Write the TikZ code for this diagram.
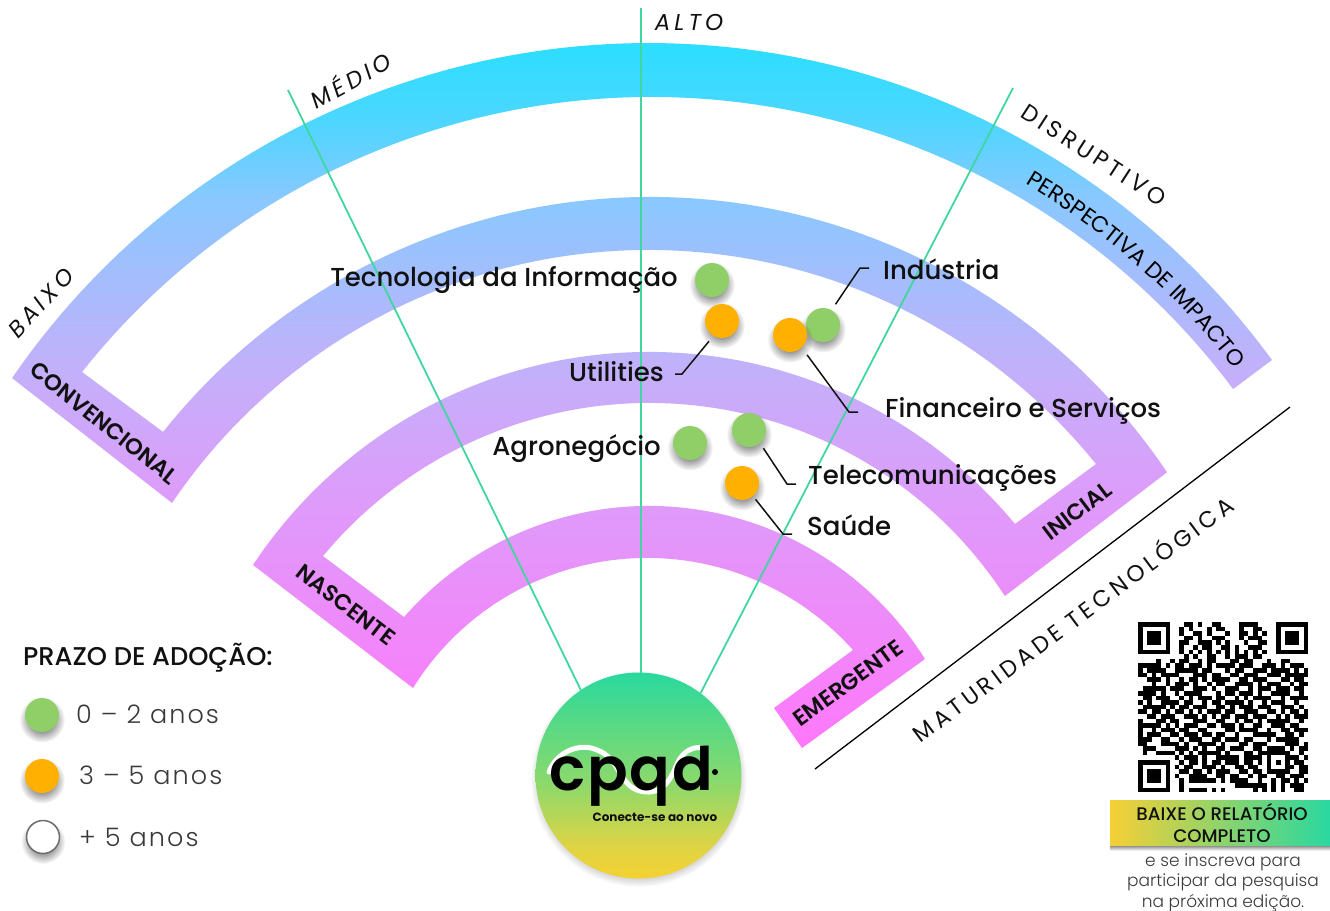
\documentclass[tikz,border=0pt]{standalone}
\usepackage{fontspec}
\usetikzlibrary{shadows,fadings,decorations.text,calc}
\setmainfont{Poppins}
\newfontfamily\medfont{Poppins Medium}
\newfontfamily\semifont{Poppins SemiBold}
\newfontfamily\logofont[LetterSpace=3]{Poppins SemiBold}
\newfontfamily\lightfont{Poppins Light}
\newfontfamily\spacedfont[LetterSpace=18]{Poppins}
\newfontfamily\legendfont[LetterSpace=8]{Poppins Light}
\newcommand{\fs}[1]{\fontsize{#1}{#1}\selectfont}
\definecolor{raygreen}{HTML}{3FD6A0}
\definecolor{dotg}{HTML}{90CF68}
\definecolor{doto}{HTML}{FFB000}
\definecolor{ink}{HTML}{111111}
\definecolor{soft}{HTML}{3A3A3A}
\definecolor{ctay}{HTML}{F6CF35}
\definecolor{ctag}{HTML}{25D8A2}
\pgfdeclareverticalshading{bandgrad}{100bp}{rgb(0bp)=(1,.47,.98);rgb(25bp)=(1,.47,.98);rgb(42.6bp)=(.87,.61,.98);rgb(51.8bp)=(.765,.69,.98);rgb(63.9bp)=(.54,.785,1);rgb(69.5bp)=(.3,.84,1);rgb(75bp)=(.17,.87,1);rgb(100bp)=(.17,.87,1)}
\pgfdeclareverticalshading{logograd}{100bp}{rgb(0bp)=(.96,.82,.19);rgb(25bp)=(.96,.82,.19);rgb(33bp)=(.87,.83,.27);rgb(48bp)=(.55,.85,.42);rgb(62bp)=(.35,.85,.52);rgb(75bp)=(.16,.85,.62);rgb(100bp)=(.16,.85,.62)}
\tikzfading[name=softfade,inner color=transparent!0,outer color=transparent!100]
\tikzset{
  ray/.style={raygreen,line width=1.8pt},
  leader/.style={ink,line width=1.5pt},
  softshadow/.style={general shadow={shadow xshift=0pt,shadow yshift=-3.5pt,shadow scale=1.35,fill=black,opacity=.85,path fading=softfade}},
  bubble/.style={circle,minimum size=34pt,inner sep=0pt,softshadow},
  dotgreen/.style={bubble,fill=dotg},
  dotorange/.style={bubble,fill=doto},
  dotwhite/.style={bubble,fill=white,draw=gray!85!black,line width=1.5pt,minimum size=33pt},
  sector/.style={font=\medfont\fs{26},text=ink,inner sep=0pt},
  axis/.style={font=\spacedfont\fs{23},text=ink,inner sep=0pt},
  axisit/.style={axis,font=\spacedfont\itshape\fs{23}},
  stage/.style={font=\semifont\fs{22.6},text=ink,inner sep=0pt},
  legendtxt/.style={font=\legendfont\fs{25.5},text=soft,inner sep=0pt,anchor=west},
  qrmod/.style={fill=black},
}
\newcount\qx
\newcount\qy
\def\qrscan#1{\ifx#1\relax\let\qrnext\relax\else\if#11\fill[qrmod] ({1138+\the\qx*4.6},{622+\the\qy*4.6}) rectangle ++(4.65,4.65);\fi\global\advance\qx by 1 \let\qrnext\qrscan\fi\qrnext}
\begin{document}
\begin{tikzpicture}[x=1pt,y=-1pt]
\useasboundingbox (0,0) rectangle (1330,910);
% serpentine band
\path[shading=bandgrad]
  plot[variable=\t,domain=145.53:36.11,samples=90] ({648.4+771.9*cos(\t)},{814.9-771.9*sin(\t)})
  -- plot[variable=\t,domain=36.7:141.6,samples=90] ({651.0+726.0*cos(\t)},{822.9-726.0*sin(\t)})
  -- plot[variable=\t,domain=141.5:33.9,samples=90] ({650.3+622.6*cos(\t)},{819.5-622.6*sin(\t)})
  -- plot[variable=\t,domain=33.0:140.29,samples=90] ({649.2+424.1*cos(\t)},{827.0-424.1*sin(\t)})
  -- plot[variable=\t,domain=138.81:31.97,samples=90] ({648.9+325.4*cos(\t)},{831.3-325.4*sin(\t)})
  -- (802,748) -- (774,708)
  -- plot[variable=\t,domain=41.77:148.1,samples=90] ({647.2+275.9*cos(\t)},{833.8-275.9*sin(\t)})
  -- plot[variable=\t,domain=146.54:39.62,samples=90] ({649.2+474.9*cos(\t)},{826.8-474.9*sin(\t)})
  -- plot[variable=\t,domain=38.88:145.95,samples=90] ({648.4+574.96*cos(\t)},{824.9-574.96*sin(\t)})
  -- cycle;
% logo disc
\node[circle,minimum size=206pt,inner sep=0pt,shading=logograd,
  circular drop shadow={shadow xshift=0pt,shadow yshift=-3pt,shadow scale=1.05,fill=black,opacity=.3}] (logo) at (638.5,775.5) {};
% rays
\coordinate (rayA) at (288,90);
\coordinate (rayB) at (641,8);
\coordinate (rayC) at (1013,88);
\draw[ray] (rayA) -- (logo.124);
\draw[ray] (rayB) -- (641,672.6);
\draw[ray] (rayC) -- (logo.53);
% logo contents
\draw[white,line width=5pt,line cap=round] (549,772) .. controls (556,752) and (580,742) .. (597,750) .. controls (620,758) and (618,785) .. (640,791) .. controls (665,797) and (672,775) .. (678,762) .. controls (684,750) and (695,746) .. (703,748);
\node[inner sep=0pt,font=\logofont\fs{60},text=black] (cpqd) at (631,776) {cpqd};
\node[circle,fill=black,minimum size=6pt,inner sep=0pt] (cpqddot) at (715,772) {};
\node[inner sep=0pt,font=\bfseries\fs{12},text=ink] (tagline) at (655,817) {Conecte-se ao novo};
% axis words
\node[axisit] (tAlto) at (689,22) {ALTO};
\node[axisit,rotate=29] (tMedio) at (350,79) {MÉDIO};
\node[axisit,rotate=47] (tBaixo) at (41,303) {BAIXO};
\node[axis,rotate=-33] (tDisr) at (1094,155) {DISRUPTIVO};
% maturity
\coordinate (matA) at (815,769);
\coordinate (matB) at (1290,407);
\draw[black,line width=1.3pt] (matA) -- (matB);
\node[axis,rotate=36.7] (tMat) at (1072,618) {MATURIDADE TECNOLÓGICA};
% stage labels
\node[stage,rotate=-38.5] (sConv) at (104,423) {CONVENCIONAL};
\node[stage,rotate=-37.5] (sNasc) at (346,605) {NASCENTE};
\node[stage,rotate=37] (sInic) at (1077,511) {INICIAL};
\node[stage,rotate=36] (sEmer) at (848,683) {EMERGENTE};
\path[decorate,decoration={text along path,text align=center,text={|\fs{22.5}|PERSPECTIVA DE IMPACTO}}]
  plot[variable=\t,domain=61:36,samples=40] ({649+739*cos(\t)},{820-739*sin(\t)});
% adoption dots
\node[dotgreen] (dTI) at (712,280) {};
\node[dotgreen] (dInd) at (823,325) {};
\node[dotgreen] (dAgro) at (690,443) {};
\node[dotgreen] (dTel) at (749,430) {};
\node[dotorange] (dUt) at (722,321) {};
\node[dotorange] (dFin) at (790,335) {};
\node[dotorange] (dSau) at (742,483) {};
% sector labels
\node[sector,anchor=east] (lTI) at (678,280) {Tecnologia da Informação};
\node[sector,anchor=west] (lInd) at (883,269) {Indústria};
\node[sector,anchor=east] (lUt) at (664,372) {Utilities};
\node[sector,anchor=west] (lFin) at (885,411) {Financeiro e Serviços};
\node[sector,anchor=east] (lAgro) at (661,449) {Agronegócio};
\node[sector,anchor=west] (lTel) at (808,478) {Telecomunicações};
\node[sector,anchor=west] (lSau) at (807,525) {Saúde};
% leaders
\coordinate (eUt) at (682,374);
\coordinate (eFin) at (849,412);
\coordinate (eTel) at (787,484);
\coordinate (eSau) at (783,534);
\coordinate (eInd) at (860,268);
\draw[leader,shorten <=7pt,shorten >=11pt] (dUt.240) -- (eUt) -- (lUt.east |- eUt);
\draw[leader,shorten <=9pt,shorten >=27pt] (dFin.-47) -- (eFin) -- (lFin.west |- eFin);
\draw[leader,shorten <=6pt,shorten >=12pt] (dTel.-50) -- (eTel) -- (lTel.west |- eTel);
\draw[leader,shorten <=4pt,shorten >=15pt] (dSau.-50) -- (eSau) -- (lSau.west |- eSau);
\draw[leader,shorten <=7pt,shorten >=14pt] (dInd.60) -- (eInd) -- (lInd.west |- eInd);
% legend
\node[inner sep=0pt,anchor=west,font=\medfont\fs{25.7},text=ink] (legT) at (23,658) {PRAZO DE ADOÇÃO:};
\node[dotgreen] (legA) at (42,715) {};
\node[dotorange] (legB) at (42,776) {};
\node[dotwhite] (legC) at (43,837) {};
\node[legendtxt] (legTa) at (76,714) {0 – 2 anos};
\node[legendtxt] (legTb) at (79,775) {3 – 5 anos};
\node[legendtxt] (legTc) at (79,837) {+ 5 anos};
% QR
\global\qy=0
\foreach \row in {
1111111000110100110000111100001111111,
1000001001010001011000100110001000001,
1011101001001101000100110101001011101,
1011101000110100111000101110001011101,
1011101001100111010100010011001011101,
1000001001001011001101001110001000001,
1111111001010101010101010101001111111,
0000000000101001100101110110000000000,
0000100101100101100011011000100110000,
1111101011011101011110111001110101110,
1011110011111011000101100111011110101,
1101011110001110110011011100111011111,
0011101001011010111100110111000110110,
0001001011101001011001111010111001011,
0111110111001110100111001011101110110,
1111010010111100010110111010011110010,
0110111001010111011001010111100101111,
1010011110110010110111101001011100100,
0111110101101110011010111011100111010,
1101101011010101110110011100110101101,
0011011100111010101101110111001010111,
1000110110001110011001011010111110010,
1111101010111001101110100110011101100,
1001011101100110000110111100100110111,
1011100110111011011001000111110011010,
1110011001011100110111011000101111100,
1100011110100111101000110111000011101,
0111000011101010011011100110111101011,
0100111101010111110100011011111110010,
0000000010111010011111011110100011101,
1111111001011010110111011010101010110,
1000001010110011101001101100100011011,
1011101001101101011100110110111110011,
1011101010011110011011001011001101110,
1011101001011111101011110010010110101,
1000001001000000000001111111010101110,
1111111001011110101000000101010100110}
{\global\qx=0 \expandafter\qrscan\row\relax \global\advance\qy by 1 }
% call to action
\node[minimum width=224pt,minimum height=45pt,inner sep=0pt,left color=ctay,right color=ctag,
  align=center,font=\medfont\fs{18.2},text=ink] (cta) at (1222,823) {BAIXE O RELATÓRIO\\[3pt]COMPLETO};
\fill[black,opacity=.45,path fading=south] (cta.south west) rectangle ($(cta.south east)+(0,5)$);
\node[anchor=north,inner sep=0pt,align=center,font=\lightfont\fs{17},text=soft] (ctaSub) at (1223,853.5) {e se inscreva para\\[2pt]participar da pesquisa\\[2pt]na próxima edição.};
\end{tikzpicture}
\end{document}
